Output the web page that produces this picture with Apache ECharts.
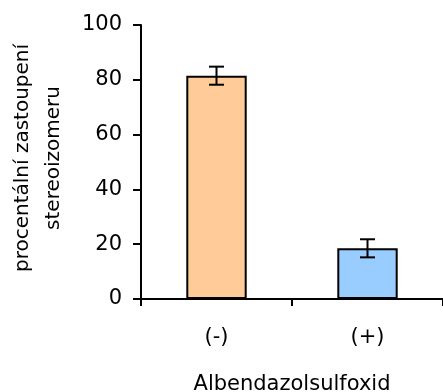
<!DOCTYPE html>
<html>
<head>
<meta charset="utf-8">
<script src="https://cdn.jsdelivr.net/npm/echarts@6/dist/echarts.min.js"></script>
<style>
  html, body { margin: 0; padding: 0; background: #fff; }
  #chart { width: 443px; height: 392px; }
</style>
</head>
<body>
<div id="chart"></div>
<script>
// Share of each stereoisomer (%), mean with error
const categories = ['(-)', '(+)'];
const shares = [81.5, 18.5];
const errors = [3.3, 3.3];
const barColors = ['#FFCC99', '#99CCFF'];
const yTicks = { min: 0, max: 100, step: 20 };

const FONT = 'DejaVu Sans';
const chart = echarts.init(document.getElementById('chart'));

chart.setOption({
  animation: false,
  backgroundColor: '#fff',
  grid: { left: 141, right: 0, top: 25, bottom: 93, outerBoundsMode: 'none', containLabel: false },
  xAxis: {
    type: 'category',
    data: categories,
    name: 'Albendazolsulfoxid',
    nameLocation: 'middle',
    nameGap: 75,
    nameTextStyle: { fontFamily: FONT, fontSize: 21, color: '#000' },
    axisLine: { lineStyle: { color: '#000', width: 2 } },
    axisTick: { show: true, length: 7, alignWithLabel: false, lineStyle: { color: '#000', width: 2 } },
    axisLabel: { margin: 28, fontFamily: FONT, fontSize: 21, color: '#000' }
  },
  yAxis: {
    type: 'value',
    min: yTicks.min,
    max: yTicks.max,
    interval: yTicks.step,
    name: 'procentální zastoupení\nstereoizomeru',
    nameLocation: 'middle',
    nameGap: 72,
    nameTextStyle: { fontFamily: FONT, fontSize: 20, color: '#000', lineHeight: 31, align: 'center', padding: [0, 0, 0, 8] },
    axisLine: { show: true, lineStyle: { color: '#000', width: 2 } },
    axisTick: { show: true, length: 8, lineStyle: { color: '#000', width: 2 } },
    axisLabel: { margin: 19, fontFamily: FONT, fontSize: 21, color: '#000' },
    splitLine: { show: false }
  },
  series: [
    {
      type: 'bar',
      barWidth: '40%',
      data: shares.map((v, i) => ({
        value: v,
        itemStyle: { color: barColors[i], borderColor: '#000', borderWidth: 2 }
      }))
    },
    {
      type: 'custom',
      data: shares.map((v, i) => [i, v, errors[i]]),
      z: 10,
      renderItem: function (params, api) {
        const x = api.value(0);
        const v = api.value(1);
        const e = api.value(2);
        const top = api.coord([x, v + e]);
        const bot = api.coord([x, v - e]);
        const half = 7.5;
        const style = { stroke: '#000', lineWidth: 2, fill: 'none' };
        return {
          type: 'group',
          children: [
            { type: 'line', shape: { x1: top[0], y1: top[1], x2: bot[0], y2: bot[1] }, style },
            { type: 'line', shape: { x1: top[0] - half, y1: top[1], x2: top[0] + half, y2: top[1] }, style },
            { type: 'line', shape: { x1: bot[0] - half, y1: bot[1], x2: bot[0] + half, y2: bot[1] }, style }
          ]
        };
      }
    }
  ]
});
</script>
</body>
</html>
